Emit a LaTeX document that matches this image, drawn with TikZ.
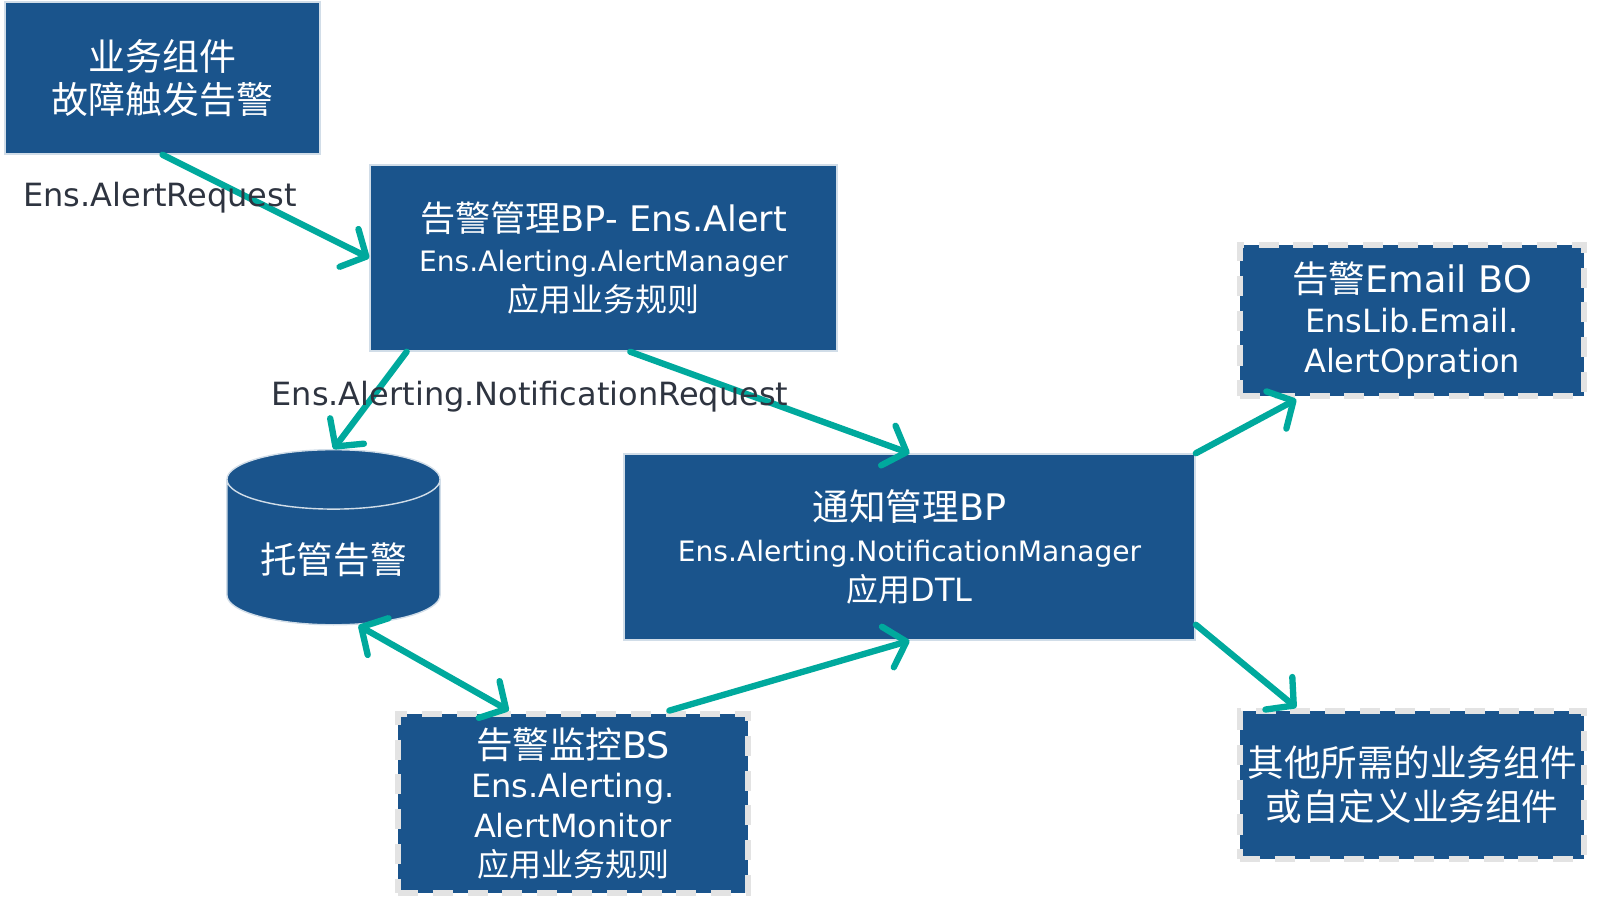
\documentclass[tikz,border=0pt]{standalone}
\usepackage{fontspec}
\setmainfont{DejaVu Sans}
\newfontfamily\cjk{Noto Sans CJK SC}
\usetikzlibrary{shapes.geometric,arrows.meta,calc}
\definecolor{boxblue}{RGB}{26,84,140}
\definecolor{flowteal}{RGB}{0,169,157}
\definecolor{labelgray}{RGB}{46,52,64}
\newcommand\zh[1]{{\cjk #1}}
\newcommand\hdsize{\fontsize{10.4}{11.4}\selectfont}
\newcommand\smsize{\fontsize{8}{11.4}\selectfont}

\begin{document}
\begin{tikzpicture}[x=0.01cm,y=-0.01cm,
  blockbox/.style={rectangle, fill=boxblue, draw=white!80!boxblue, line width=0.4pt,
    text=white, align=center, inner sep=0pt, font=\fontsize{9.1}{11.4}\selectfont},
  dashbox/.style={blockbox, draw=black!11, line width=1.9pt, dash pattern=on 5.7pt off 4.2pt},
  flowtip/.tip={Straight Barb[length=5.5pt,width=12pt,line cap=round,line join=round]},
  flow/.style={draw=flowteal, line width=1.8pt, line cap=round, -flowtip},
  flowlabel/.style={text=labelgray, inner sep=0pt, font=\fontsize{9.1}{11}\selectfont}]
\useasboundingbox (0,0) rectangle (1600,904);
\node[blockbox, minimum width=3.15cm, minimum height=1.52cm, font=\fontsize{10.5}{12.2}\selectfont] (biz) at (162.5,78)
  {\zh{业务组件}\\\zh{故障触发告警}};
\node[blockbox, minimum width=4.67cm, minimum height=1.86cm] (mgr) at (603.5,258)
  {\fontsize{10}{11.4}\selectfont\zh{告警管理}BP- Ens.Alert\\\smsize Ens.Alerting.AlertManager\\\zh{应用业务规则}};
\node[dashbox, minimum width=3.44cm, minimum height=1.51cm] (email) at (1412,320.5)
  {\hdsize\zh{告警}Email BO\\EnsLib.Email.\\AlertOpration};
\node[cylinder, shape border rotate=90, aspect=0.35, fill=boxblue, draw=white!80!boxblue,
  minimum width=2.13cm, minimum height=1.75cm, text=white, font=\hdsize, anchor=north] (store) at (333.5,449)
  {\zh{托管告警}};
\node[blockbox, minimum width=5.71cm, minimum height=1.86cm] (notify) at (909.5,547)
  {\hdsize\zh{通知管理}BP\\\smsize Ens.Alerting.NotificationManager\\\zh{应用}DTL};
\node[dashbox, minimum width=3.5cm, minimum height=1.79cm, font=\fontsize{9.1}{11.2}\selectfont] (monitor) at (573,803.5)
  {\hdsize\zh{告警监控}BS\\Ens.Alerting.\\AlertMonitor\\\zh{应用业务规则}};
\node[dashbox, minimum width=3.44cm, minimum height=1.48cm, font=\fontsize{10.4}{12.5}\selectfont] (other) at (1412,785)
  {\zh{其他所需的业务组件}\\\zh{或自定义业务组件}};
\draw[flow] (biz.south) -- (mgr.west);
\draw[flow] ($(mgr.south west)!0.08!(mgr.south east)$) -- (store.north);
\draw[flow] ($(mgr.south west)!0.557!(mgr.south east)$) -- (notify.north);
\draw[flow] (notify.north east) -- ($(email.south west)!0.17!(email.south east)$);
\draw[flow] ([yshift=0.16cm]notify.south east) -- ($(other.north west)!0.17!(other.north east)$);
\draw[flow, flowtip-flowtip] ([xshift=0.25cm]store.south) -- ($(monitor.north west)!0.32!(monitor.north east)$);
\draw[flow] ($(monitor.north west)!0.77!(monitor.north east)$) -- (notify.south);
\node[flowlabel] (reqlabel) at (160,198) {Ens.AlertRequest};
\node[flowlabel] (notlabel) at (530,397) {Ens.Alerting.NotificationRequest};
\end{tikzpicture}
\end{document}
